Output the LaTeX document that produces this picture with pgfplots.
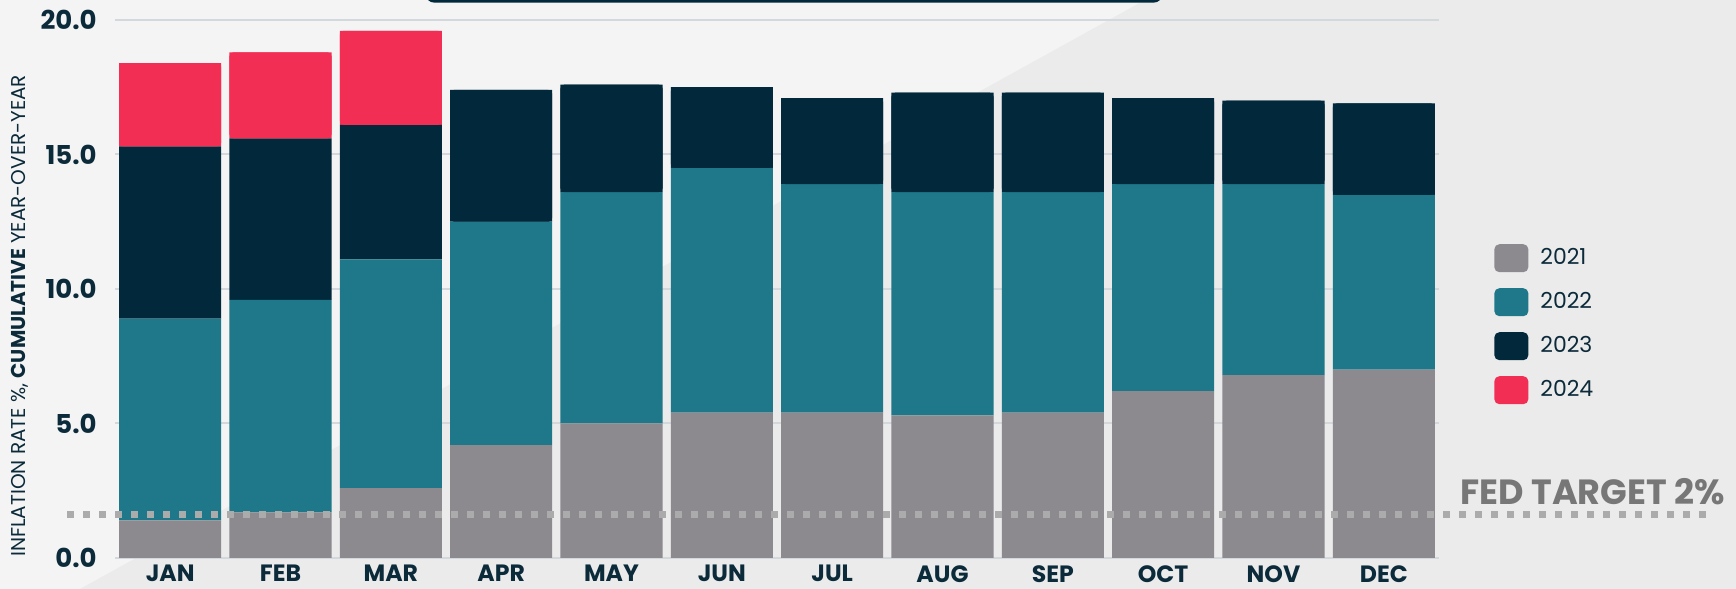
\documentclass[border=0pt]{standalone}
\usepackage{fontspec}
\setmainfont{Poppins}
\usepackage{pgfplots}
\pgfplotsset{compat=1.18}
\definecolor{cA}{HTML}{8C8A8F}
\definecolor{cB}{HTML}{1F788A}
\definecolor{cC}{HTML}{02293B}
\definecolor{cD}{HTML}{F22E55}
\definecolor{navy}{HTML}{0B2A3A}
\definecolor{bgA}{HTML}{F4F4F4}
\definecolor{bgB}{HTML}{EBEBEB}
\definecolor{gridc}{HTML}{D3D8DC}
\definecolor{fedc}{HTML}{ABABAB}
\definecolor{fedt}{HTML}{777777}
\pgfplotsset{
  frame/.style={scale only axis, width=662pt, height=269pt,
    at={(57.5pt,15.5pt)}, anchor=south west,
    xmin=-0.5, xmax=11.5, ymin=0, ymax=20,
    ybar stacked, bar width=0.925, clip=false},
  leg/.style={legend image code/.code={\fill[#1,rounded corners=2.5pt] (0pt,-7pt) rectangle (17pt,7pt);}},
}
\begin{document}
\begin{tikzpicture}[x=1pt,y=1pt]
\clip (0,0) rectangle (868,294.5);
\fill[bgA] (0,0) rectangle (868,294.5);
\fill[bgB] (40,0) -- (572.5,294.5) -- (868,294.5) -- (868,0) -- cycle;
\fill[cC, rounded corners=4pt] (213,293.2) rectangle (581,320);
\begin{axis}[frame,
  axis line style={draw=none}, major tick length=0pt, tick style={draw=none},
  ymajorgrids, grid style={gridc, line width=1pt},
  xtick={0,...,11},
  xticklabels={JAN,FEB,MAR,APR,MAY,JUN,JUL,AUG,SEP,OCT,NOV,DEC},
  ytick={0,5,10,15,20},
  yticklabel={\pgfmathprintnumber[fixed,fixed zerofill,precision=1,assume math mode=true]{\tick}},
  ticklabel style={text=navy, inner sep=0pt},
  yticklabel style={anchor=east, xshift=-9pt, font=\bfseries\fontsize{13}{15}\selectfont},
  xticklabel style={anchor=north, yshift=-3.5pt, font=\bfseries\fontsize{11.8}{14}\selectfont},
  ylabel={INFLATION RATE \%, \textbf{CUMULATIVE} YEAR-OVER-YEAR},
  every axis y label/.style={at={(axis description cs:0,0.45)}, xshift=-47.5pt, rotate=90, anchor=center, font=\fontsize{10}{12}\selectfont, text=navy},
  legend style={at={(1.0415,0.584)}, anchor=north west, draw=none, fill=none,
    inner sep=0pt, font=\fontsize{11}{13}\selectfont, text=navy,
    nodes={inner sep=0pt}, row sep=8pt, cells={anchor=west},
    /tikz/every odd column/.append style={column sep=6pt}},
]
\addplot[fill=cA, draw=none, leg=cA] coordinates {(0,1.4) (1,1.7) (2,2.6) (3,4.2) (4,5.0) (5,5.4) (6,5.4) (7,5.3) (8,5.4) (9,6.2) (10,6.8) (11,7.0)};
\addlegendentry{2021}
\addplot[fill=cB, draw=none, leg=cB] coordinates {(0,7.5) (1,7.9) (2,8.5) (3,8.3) (4,8.6) (5,9.1) (6,8.5) (7,8.3) (8,8.2) (9,7.7) (10,7.1) (11,6.5)};
\addlegendentry{2022}
\addplot[fill=cC, draw=none, leg=cC] coordinates {(0,6.4) (1,6.0) (2,5.0) (3,4.9) (4,4.0) (5,3.0) (6,3.2) (7,3.7) (8,3.7) (9,3.2) (10,3.1) (11,3.4)};
\addlegendentry{2023}
\addplot[fill=cD, draw=none, leg=cD] coordinates {(0,3.1) (1,3.2) (2,3.5) (3,0) (4,0) (5,0) (6,0) (7,0) (8,0) (9,0) (10,0) (11,0)};
\addlegendentry{2024}
\end{axis}
% rounded caps: JAN-MAR (2024 on top)
\begin{axis}[frame, hide axis]
\addplot[draw=none, fill=none] coordinates {(0,15.3) (1,15.6) (2,16.1)};
\addplot[fill=cD, draw=none, rounded corners=2pt] coordinates {(0,3.1) (1,3.2) (2,3.5)};
\end{axis}
% rounded caps: APR-DEC (2023 on top)
\begin{axis}[frame, hide axis]
\addplot[draw=none, fill=none] coordinates {(3,12.5) (4,13.6) (5,14.5) (6,13.9) (7,13.6) (8,13.6) (9,13.9) (10,13.9) (11,13.5)};
\addplot[fill=cC, draw=none, rounded corners=2pt] coordinates {(3,4.9) (4,4.0) (5,3.0) (6,3.2) (7,3.7) (8,3.7) (9,3.2) (10,3.1) (11,3.4)};
\end{axis}
\draw[fedc, line width=3.5pt, dash pattern=on 3.5pt off 4.5pt] (33.5,37.2) -- (853.5,37.2);
\node[anchor=west, inner sep=0pt, font=\bfseries\fontsize{17.5}{20}\selectfont, text=fedt] at (730,48.5) {FED TARGET 2\%};
\end{tikzpicture}
\end{document}
